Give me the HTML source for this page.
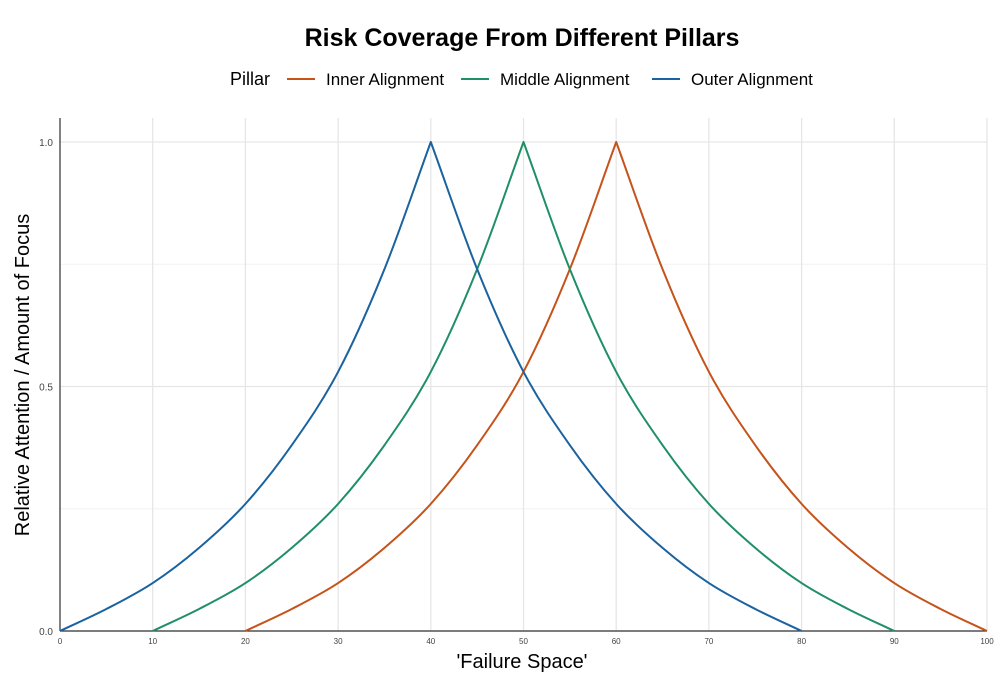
<!DOCTYPE html>
<html><head><meta charset="utf-8"><style>
body{margin:0;background:#fff;font-family:"Liberation Sans",Arial,sans-serif}
</style></head><body>
<svg id="chart" width="1000" height="683" xmlns="http://www.w3.org/2000/svg">
<text x="522" y="46" text-anchor="middle" font-size="25" font-weight="bold">Risk Coverage From Different Pillars</text>
<g id="legend" font-size="17">
<text x="230" y="85" font-size="18">Pillar</text>
</g>
<g id="grid"></g><g id="axes"></g><g id="series"></g>
<text x="522" y="668" text-anchor="middle" font-size="20">'Failure Space'</text>
<text transform="translate(29,375) rotate(-90)" text-anchor="middle" font-size="20">Relative Attention / Amount of Focus</text>
</svg>
<script>
const offsets=[0,5,10,15,20,25,30,35,40];
const shape=[0,0.045,0.098,0.17,0.26,0.38,0.53,0.74,1.0];
const seriesNames=["Inner Alignment","Middle Alignment","Outer Alignment"];
const seriesPeaks=[60,50,40];
const seriesColors=["#c5531a","#1f8f66","#1a62a0"];
const xTicks=[0,10,20,30,40,50,60,70,80,90,100];
const yTicks=[0,0.5,1.0];
const yTickLabels=["0.0","0.5","1.0"];
const yMinor=[0.25,0.75];
const NS="http://www.w3.org/2000/svg";
const L=60,R=987,T=118,B=631;
const xs=v=>L+(v-0)/100*(R-L);
const ys=v=>B-v*(B-142);
function mk(tag,attrs,parent){const e=document.createElementNS(NS,tag);for(const k in attrs)e.setAttribute(k,attrs[k]);document.getElementById(parent).appendChild(e);return e;}
function smooth(pts){
  // Catmull-Rom to cubic bezier, screen coords
  const P=pts.map(p=>[xs(p[0]),ys(p[1])]);
  let d="";
  for(let k=0;k<P.length-1;k++){
    const p0=P[k-1]||[2*P[k][0]-P[k+1][0],2*P[k][1]-P[k+1][1]];
    const p1=P[k],p2=P[k+1];
    const p3=P[k+2]||[2*P[k+1][0]-P[k][0],2*P[k+1][1]-P[k][1]];
    const c1=[p1[0]+(p2[0]-p0[0])/6,p1[1]+(p2[1]-p0[1])/6];
    const c2=[p2[0]-(p3[0]-p1[0])/6,p2[1]-(p3[1]-p1[1])/6];
    d+="C"+c1[0]+","+c1[1]+" "+c2[0]+","+c2[1]+" "+p2[0]+","+p2[1];
  }
  return d;
}
yMinor.forEach(v=>{const e=mk("line",{x1:L,x2:R,y1:ys(v),y2:ys(v),stroke:"#f2f2f2","stroke-width":1},"grid");

});
yTicks.forEach((v,i)=>{const e=mk("line",{x1:L,x2:R,y1:ys(v),y2:ys(v),stroke:"#e6e6e6","stroke-width":1.3},"grid");


const t=mk("text",{x:L-7,y:ys(v)+4,"text-anchor":"end","font-size":10,fill:"#444"},"axes");t.textContent=yTickLabels[i];

});
xTicks.forEach(v=>{const e=mk("line",{x1:xs(v),x2:xs(v),y1:T,y2:B,stroke:"#e6e6e6","stroke-width":1.3},"grid");


const t=mk("text",{x:xs(v),y:B+13,"text-anchor":"middle","font-size":8,fill:"#444"},"axes");t.textContent=v;

});
let a=mk("line",{x1:L,x2:L,y1:T,y2:B,stroke:"#333","stroke-width":1.2},"axes");


a=mk("line",{x1:L,x2:R,y1:B,y2:B,stroke:"#333","stroke-width":1.2},"axes");


seriesNames.forEach((n,i)=>{const p=seriesPeaks[i];
const up=offsets.map((o,j)=>[p-40+o,shape[j]]);
const down=[];for(let j=offsets.length-1;j>=0;j--)down.push([p+40-offsets[j],shape[j]]);
const d="M"+xs(up[0][0])+","+ys(up[0][1])+smooth(up)+smooth(down);
const e=mk("path",{d:d,fill:"none",stroke:seriesColors[i],"stroke-width":2,"stroke-linejoin":"round"},"series");

});
const lx=[287,461,652];
seriesNames.forEach((n,i)=>{const l=mk("line",{x1:lx[i],x2:lx[i]+28,y1:79,y2:79,stroke:seriesColors[i],"stroke-width":2},"legend");


const t=mk("text",{x:lx[i]+39,y:85,"font-size":17},"legend");t.textContent=n;

});
</script>
</body></html>
